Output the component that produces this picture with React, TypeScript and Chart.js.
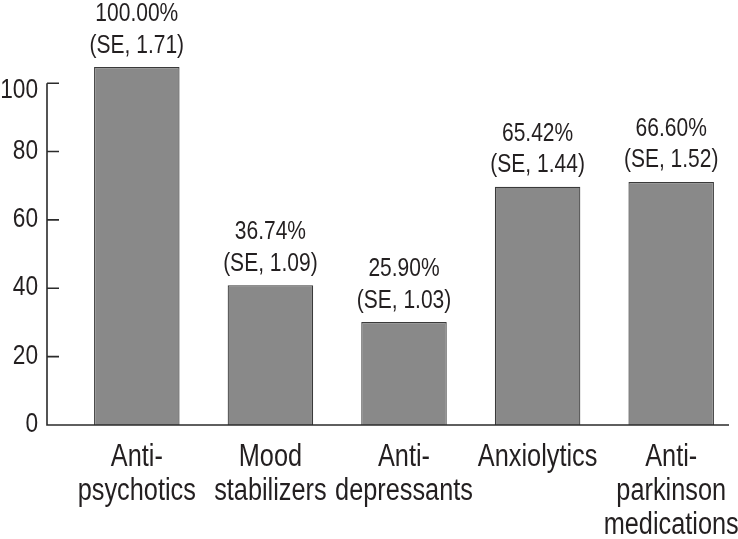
import React, { useEffect, useRef } from 'react';
import { Chart, registerables } from 'chart.js';

Chart.register(...registerables);

const categories: string[][] = [
  ['Anti-', 'psychotics'],
  ['Mood', 'stabilizers'],
  ['Anti-', 'depressants'],
  ['Anxiolytics'],
  ['Anti-', 'parkinson', 'medications'],
];
const barValues = [104.7, 40.9, 30.1, 69.7, 71.1];
const pctLabels = ['100.00%', '36.74%', '25.90%', '65.42%', '66.60%'];
const seLabels = ['(SE, 1.71)', '(SE, 1.09)', '(SE, 1.03)', '(SE, 1.44)', '(SE, 1.52)'];
const yTicks = [0, 20, 40, 60, 80, 100];

const FAMILY = '"Liberation Sans", Arial, sans-serif';
const TEXT_COLOR = '#231f20';

function drawText(
  ctx: CanvasRenderingContext2D,
  text: string,
  x: number,
  y: number,
  size: number,
  align: CanvasTextAlign,
  squeeze: number,
) {
  ctx.save();
  ctx.font = `${size}px ${FAMILY}`;
  ctx.textAlign = align;
  ctx.textBaseline = 'alphabetic';
  ctx.fillStyle = TEXT_COLOR;
  ctx.translate(x, y);
  ctx.scale(squeeze, 1);
  ctx.fillText(text, 0, 0);
  ctx.restore();
}

export default function App() {
  const ref = useRef<HTMLCanvasElement | null>(null);

  useEffect(() => {
    if (!ref.current) return;
    const tickSize = 27;
    const dataSize = 25;
    const catSize = 31;

    const decor = {
      id: 'decor',
      afterDatasetsDraw(chart: any) {
        const { ctx, chartArea, scales } = chart;
        const y = scales.y;
        const x = scales.x;
        const axisX = chartArea.left - 23;
        const y0 = y.getPixelForValue(0);
        const yTop = y.getPixelForValue(100);
        ctx.save();
        ctx.strokeStyle = '#2b2b2b';
        ctx.lineWidth = 1.6;
        ctx.beginPath();
        ctx.moveTo(axisX, yTop);
        ctx.lineTo(axisX, y0);
        ctx.lineTo(chartArea.right - 9, y0);
        yTicks.forEach((v) => {
          const py = y.getPixelForValue(v);
          ctx.moveTo(axisX, py);
          ctx.lineTo(axisX + 12, py);
        });
        ctx.stroke();
        ctx.restore();

        // y tick labels
        yTicks.forEach((v, i) => {
          const py = y.getPixelForValue(v);
          const top = i === yTicks.length - 1;
          drawText(ctx, String(v), axisX - 9, top ? py + 15 : py + 7, tickSize, 'right', 0.84);
        });

        // category labels
        categories.forEach((lines, i) => {
          const px = x.getPixelForTick(i);
          lines.forEach((ln, j) => {
            drawText(ctx, ln, px, y0 + 41 + j * 34, catSize, 'center', 0.816);
          });
        });

        // data labels
        const meta = chart.getDatasetMeta(0);
        meta.data.forEach((bar: any, i: number) => {
          drawText(ctx, pctLabels[i], bar.x, bar.y - 46, dataSize, 'center', 0.84);
          drawText(ctx, seLabels[i], bar.x, bar.y - 14.5, dataSize, 'center', 0.84);
        });
      },
    };

    const chart = new Chart(ref.current, {
      type: 'bar',
      data: {
        labels: categories,
        datasets: [
          {
            data: barValues,
            backgroundColor: '#898989',
            borderColor: '#3a3a3a',
            borderWidth: 1.2,
            categoryPercentage: 1,
            barPercentage: 0.64,
          },
        ],
      },
      options: {
        animation: false,
        responsive: false,
        maintainAspectRatio: false,
        layout: { padding: { top: 49, right: -1, left: 0, bottom: 0 } },
        plugins: { legend: { display: false }, tooltip: { enabled: false } },
        scales: {
          x: {
            grid: { display: false, drawTicks: false, tickLength: 0 },
            border: { display: false },
            ticks: { display: false, autoSkip: false },
            afterFit: (s: any) => {
              s.height = 114;
            },
          },
          y: {
            min: 0,
            max: 110,
            grid: { display: false, drawTicks: false, tickLength: 0 },
            border: { display: false },
            ticks: { display: false, stepSize: 20, includeBounds: false },
            afterBuildTicks: (s: any) => {
              s.ticks = yTicks.map((v) => ({ value: v }));
            },
            afterFit: (s: any) => {
              s.width = 70;
            },
          },
        },
      },
      plugins: [decor],
    } as any);

    return () => chart.destroy();
  }, []);

  return (
    <div style={{ position: 'absolute', left: 0, top: 0, width: 738, height: 539, background: '#fff' }}>
      <canvas ref={ref} width={738} height={539} style={{ width: 738, height: 539 }} />
    </div>
  );
}
